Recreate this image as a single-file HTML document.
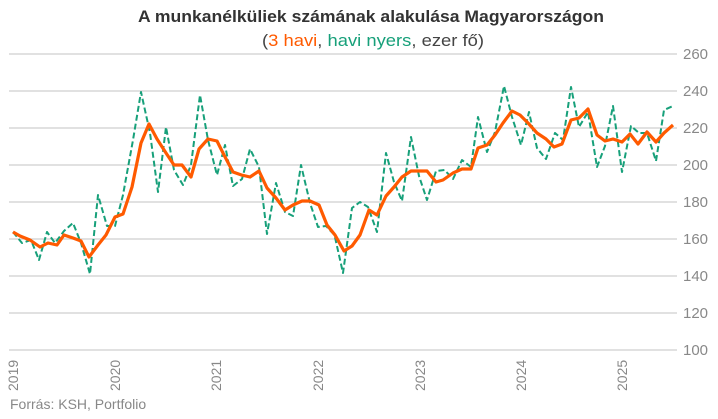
<!DOCTYPE html>
<html><head><meta charset="utf-8"><style>
body{margin:0;background:#fff;}
svg{display:block;font-family:"Liberation Sans",sans-serif;}
</style></head><body>
<svg width="718" height="419" viewBox="0 0 718 419">
<rect width="718" height="419" fill="#fff"/>
<text x="371" y="22" text-anchor="middle" font-size="17" font-weight="bold" fill="#333" textLength="466" lengthAdjust="spacingAndGlyphs">A munkanélküliek számának alakulása Magyarországon</text>
<text x="373" y="46" text-anchor="middle" font-size="17" fill="#444" textLength="222" lengthAdjust="spacingAndGlyphs">(<tspan fill="#ff5a00">3 havi</tspan>, <tspan fill="#17a07a">havi nyers</tspan>, ezer fő)</text>
<g stroke="#cfcfcf" stroke-width="1.3">
<line x1="9" x2="677" y1="54" y2="54"/>
<line x1="9" x2="677" y1="91" y2="91"/>
<line x1="9" x2="677" y1="128" y2="128"/>
<line x1="9" x2="677" y1="165" y2="165"/>
<line x1="9" x2="677" y1="202" y2="202"/>
<line x1="9" x2="677" y1="239" y2="239"/>
<line x1="9" x2="677" y1="276" y2="276"/>
<line x1="9" x2="677" y1="313" y2="313"/>
<line x1="9" x2="677" y1="350" y2="350"/>
</g>
<g font-size="15" fill="#888">
<text x="683" y="59">260</text><text x="683" y="96">240</text><text x="683" y="133">220</text><text x="683" y="170">200</text><text x="683" y="207">180</text><text x="683" y="244">160</text><text x="683" y="281">140</text><text x="683" y="318">120</text><text x="683" y="355">100</text>
</g>
<g font-size="14" fill="#888">
<text transform="translate(18,391) rotate(-90)">2019</text>
<text transform="translate(120,391) rotate(-90)">2020</text>
<text transform="translate(221,391) rotate(-90)">2021</text>
<text transform="translate(323,391) rotate(-90)">2022</text>
<text transform="translate(425,391) rotate(-90)">2023</text>
<text transform="translate(526,391) rotate(-90)">2024</text>
<text transform="translate(627,391) rotate(-90)">2025</text>
</g>
<text x="10" y="409" font-size="14" fill="#888">Forrás: KSH, Portfolio</text>
<polyline fill="none" stroke="#17a07a" stroke-width="2" stroke-dasharray="6,3" stroke-linejoin="round" points="13,232 22,243 31,240 39,260 47,232 55,243 64,231 73,223 81,243 90,274 98,195 107,226 115,226 123,195 133,140 141,92 150,133 158,192 166,127 174,170 183,185 191,165 200,95 208,140 217,175 225,145 233,186 242,179 250,149 259,167 267,234 276,183 285,212 293,216 301,165 310,203 318,227 326,226 334.5,235 343,273 352,208 360,202 368,207 377,232 386,153 394,182 402,201 411,137 419,176 427,200 436,171 444.5,170 453,179 462,160 471,167 478,117 487,152 495,132 504,86 512,117 521,145 529,112 537,148 546,159 555,133 563,140 571,87 579,127 588,112 597,167 605,146 613,106 622,172 631,126 639,133 647,133 656,161 664,110 673,106"/>
<polyline fill="none" stroke="#ff5a00" stroke-width="3.2" stroke-linejoin="round" points="13,232 20,236 30,240 40,247 48,243 57,245 64,235 73,238 81,241 89,257 98,245 106,235 115,217 123,214 132,187 141,143 149,124 157,139 166,153 174,165 182,165 191,177 199,149 208,139 217,141 224,155 233,172 241.5,175 250,177 259,171 267,188 276,198 285,210 293,205 302,201 310,201 319,205 327,225 335,235 344,251 352,246 360,235 369,210 377,215 386,196 394,187 402,177 411,171 427,171 436,182 443,180 453,173 462,169 471,169 478,148 487,145 495,135 503,123 512,111 520,115 528,123 537,133 546,139 554,147 562,144 571,120 579,118 588,109 597,135 605,141 613,139 622,142 630,134 638,144 647,132 656,142 664,133 673,125"/>
</svg>
</body></html>
